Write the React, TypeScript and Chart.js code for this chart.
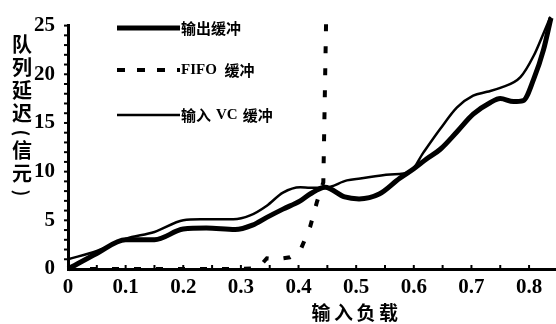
import React, { useEffect, useRef } from "react";
import { Chart, registerables } from "chart.js";

Chart.register(...registerables);

// ---- data ----
const outputX = [0, 0.05, 0.1, 0.15, 0.2, 0.24, 0.29, 0.32, 0.345, 0.373, 0.403, 0.42, 0.446, 0.48, 0.505, 0.54, 0.575, 0.6, 0.622, 0.646, 0.675, 0.703, 0.733, 0.75, 0.773, 0.79, 0.808, 0.825, 0.838];
const outputY = [0, 1.6, 3.0, 3.0, 4.1, 4.2, 4.05, 4.5, 5.3, 6.15, 7.0, 7.7, 8.4, 7.4, 7.2, 7.7, 9.3, 10.3, 11.3, 12.3, 14.1, 15.9, 17.1, 17.5, 17.2, 17.3, 19.5, 22.5, 25.8];

const fifoX = [0, 0.1, 0.2, 0.3, 0.33, 0.345, 0.36, 0.385, 0.403, 0.42, 0.432, 0.443, 0.448];
const fifoY = [0, 0, 0, 0, 0.1, 1.1, 1.0, 1.2, 1.9, 4.3, 6.9, 8.9, 26];

const inputX = [0, 0.05, 0.1, 0.15, 0.2, 0.23, 0.287, 0.316, 0.345, 0.373, 0.403, 0.42, 0.446, 0.484, 0.507, 0.559, 0.594, 0.616, 0.646, 0.675, 0.703, 0.727, 0.75, 0.785, 0.808, 0.825, 0.837];
const inputY = [1.0, 1.85, 3.1, 3.8, 5.0, 5.1, 5.1, 5.5, 6.5, 7.85, 8.4, 8.35, 8.35, 9.1, 9.3, 9.7, 10.0, 11.9, 14.4, 16.6, 17.8, 18.2, 18.6, 19.7, 21.9, 24.2, 25.9];

const seriesNames = ["输出缓冲", "FIFO 缓冲", "输入 VC 缓冲"];
const xTitleChars = ["输", "入", "负", "载"];
const yTitleChars = ["队", "列", "延", "迟", "(", "信", "元", ")"];
const xMinorStep = 0.05;
const yMinorStep = 1;

const toPts = (xs: number[], ys: number[]) => xs.map((x, i) => ({ x, y: ys[i] }));

const CJK = '"Noto Sans CJK SC", sans-serif';
const SERIF = '"Liberation Serif", "DejaVu Serif", serif';

const decorPlugin = {
  id: "decor",
  afterDraw(chart: any) {
    const { ctx, chartArea, scales } = chart;
    const xs = scales.x;
    const ys = scales.y;
    ctx.save();
    ctx.strokeStyle = "#000";
    ctx.lineWidth = 2;
    // x minor ticks (inside, upward)
    for (let v = xMinorStep; v <= 0.8 + 1e-9; v += xMinorStep) {
      const px = xs.getPixelForValue(v);
      ctx.beginPath();
      ctx.moveTo(px, chartArea.bottom);
      ctx.lineTo(px, chartArea.bottom - 4);
      ctx.stroke();
    }
    // y minor ticks (outside, left)
    for (let v = yMinorStep; v <= 25 + 1e-9; v += yMinorStep) {
      const py = ys.getPixelForValue(v);
      ctx.beginPath();
      ctx.moveTo(chartArea.left, py);
      ctx.lineTo(chartArea.left - 4, py);
      ctx.stroke();
    }

    // y title (vertical, stacked)
    ctx.fillStyle = "#000";
    ctx.textAlign = "center";
    ctx.textBaseline = "middle";
    const yCenters = [44, 67, 90, 113, 133, 150, 173, 193];
    yTitleChars.forEach((ch, i) => {
      if (ch === "(" || ch === ")") {
        ctx.save();
        ctx.font = `bold 18px ${CJK}`;
        ctx.translate(22, yCenters[i]);
        ctx.rotate(Math.PI / 2);
        ctx.fillText(ch, 0, 0);
        ctx.restore();
      } else {
        ctx.font = `bold 20px ${CJK}`;
        ctx.fillText(ch, 22, yCenters[i]);
      }
    });

    // x title
    ctx.font = `bold 19px ${CJK}`;
    xTitleChars.forEach((ch, i) => {
      ctx.fillText(ch, 321 + i * 22.5, 313);
    });

    // legend
    const lx0 = 117;
    const lx1 = 180;
    const rows = [28, 70, 115];
    ctx.lineCap = "butt";
    ctx.lineWidth = 5;
    ctx.setLineDash([]);
    ctx.beginPath();
    ctx.moveTo(lx0, rows[0]);
    ctx.lineTo(lx1, rows[0]);
    ctx.stroke();
    ctx.lineWidth = 4;
    ctx.setLineDash([8, 12]);
    ctx.beginPath();
    ctx.moveTo(lx0, rows[1]);
    ctx.lineTo(lx1, rows[1]);
    ctx.stroke();
    ctx.setLineDash([]);
    ctx.lineWidth = 2.5;
    ctx.beginPath();
    ctx.moveTo(lx0, rows[2]);
    ctx.lineTo(lx1, rows[2]);
    ctx.stroke();

    ctx.textAlign = "left";
    ctx.font = `bold 15px ${CJK}`;
    ctx.fillText(seriesNames[0], 181, rows[0]);
    const [fifo, buf] = seriesNames[1].split(" ");
    ctx.font = `bold 15px ${SERIF}`;
    ctx.fillText(fifo, 181, rows[1]);
    const w = ctx.measureText(fifo + " ").width;
    ctx.font = `bold 15px ${CJK}`;
    ctx.fillText(buf, 181 + w + 4, rows[1]);
    const parts = seriesNames[2].split(" ");
    let cx = 181;
    ctx.font = `bold 15px ${CJK}`;
    ctx.fillText(parts[0], cx, rows[2]);
    cx += ctx.measureText(parts[0]).width + 5;
    ctx.font = `bold 15px ${SERIF}`;
    ctx.fillText(parts[1], cx, rows[2]);
    cx += ctx.measureText(parts[1]).width + 5;
    ctx.font = `bold 15px ${CJK}`;
    ctx.fillText(parts[2], cx, rows[2]);
    ctx.restore();
  },
};

export default function App() {
  const ref = useRef<HTMLCanvasElement>(null);
  useEffect(() => {
    if (!ref.current) return;
    const chart = new Chart(ref.current, {
      type: "line",
      data: {
        datasets: [
          {
            label: seriesNames[0],
            data: toPts(outputX, outputY),
            borderColor: "#000",
            borderWidth: 5,
            pointRadius: 0,
            cubicInterpolationMode: "monotone",
            clip: false,
          },
          {
            label: seriesNames[1],
            data: toPts(fifoX, fifoY),
            borderColor: "#000",
            borderWidth: 4,
            borderDash: [7, 15],
            pointRadius: 0,
            tension: 0,
            clip: false,
          },
          {
            label: seriesNames[2],
            data: toPts(inputX, inputY),
            borderColor: "#000",
            borderWidth: 2.5,
            pointRadius: 0,
            cubicInterpolationMode: "monotone",
            clip: false,
          },
        ],
      },
      options: {
        responsive: false,
        animation: false,
        devicePixelRatio: 1,
        layout: { padding: { top: 22, right: 1, left: 0, bottom: 0 } },
        plugins: { legend: { display: false }, tooltip: { enabled: false } },
        scales: {
          x: {
            type: "linear",
            min: 0,
            max: 0.845,
            afterFit: (s: any) => {
              s.height = 55;
            },
            grid: { display: true, drawOnChartArea: false, drawTicks: false },
            border: { display: true, color: "#000", width: 3 },
            ticks: {
              stepSize: 0.1,
              includeBounds: false,
              autoSkip: false,
              maxRotation: 0,
              padding: 6,
              color: "#000",
              font: { family: SERIF, size: 21, weight: "bold" },
              callback: (v: any) => (Number(v) === 0 ? "0" : Number(v).toFixed(1)),
            },
          },
          y: {
            type: "linear",
            min: 0,
            max: 25,
            afterFit: (s: any) => {
              s.width = 68;
            },
            grid: { display: true, drawOnChartArea: false, drawTicks: false },
            border: { display: true, color: "#000", width: 3 },
            ticks: {
              stepSize: 5,
              padding: 13,
              color: "#000",
              font: { family: SERIF, size: 21, weight: "bold" },
            },
          },
        },
      },
      plugins: [decorPlugin],
    } as any);
    return () => chart.destroy();
  }, []);
  return (
    <div style={{ position: "absolute", left: 0, top: 0, width: 556, height: 324, background: "#fff" }}>
      <canvas ref={ref} width={556} height={324} />
    </div>
  );
}
